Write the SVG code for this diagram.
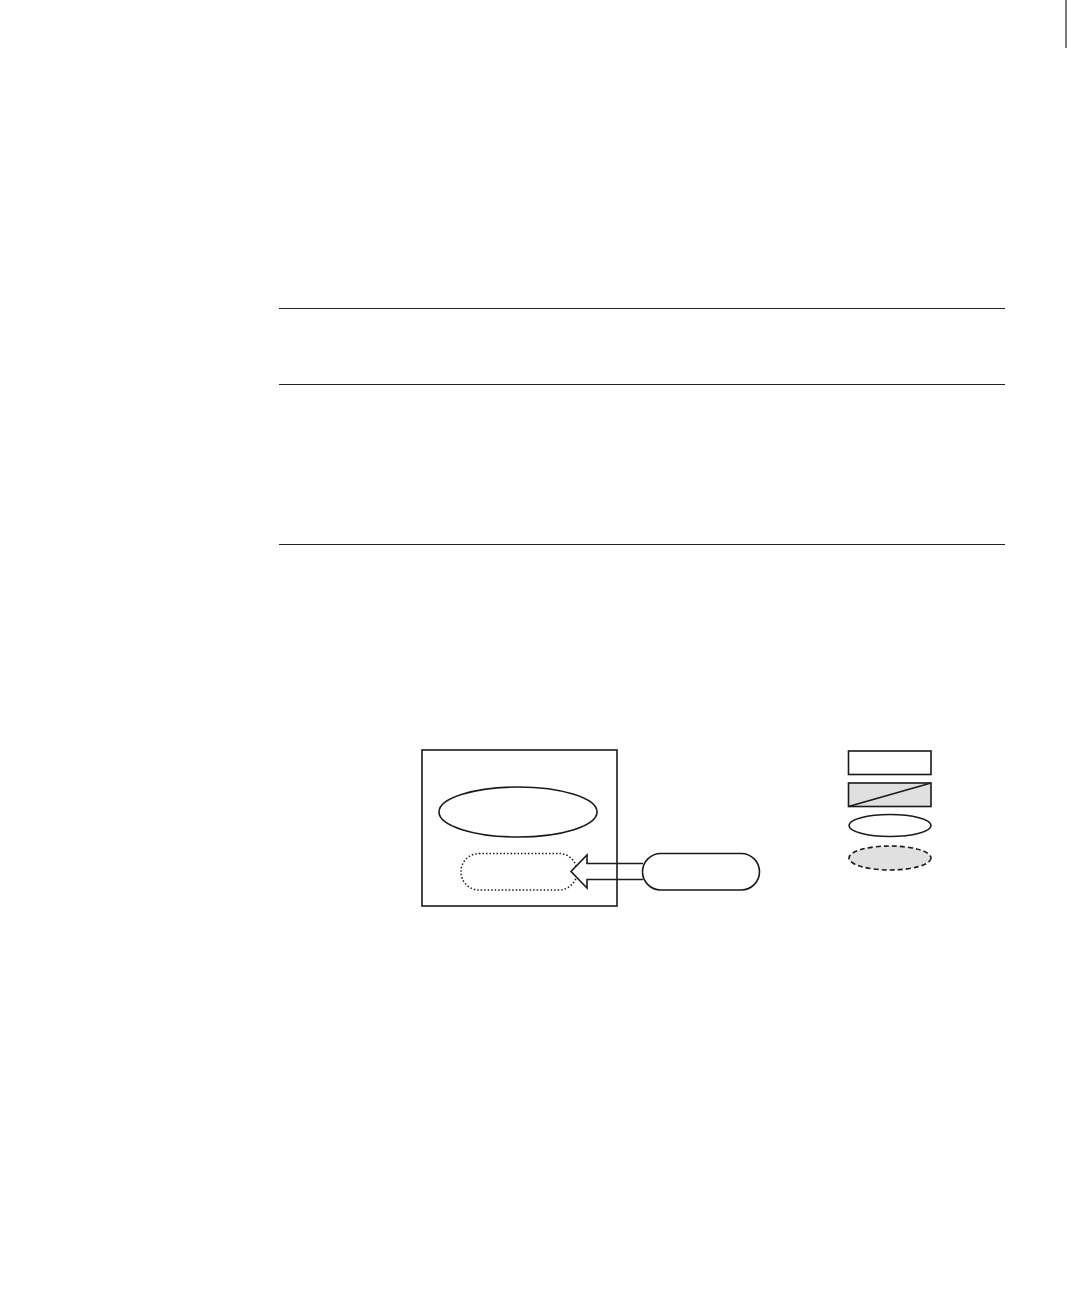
<svg xmlns="http://www.w3.org/2000/svg" width="1080" height="1296" viewBox="0 0 1080 1296">
<style>
.s{fill:none;stroke:#1a1a1a;stroke-width:1.6}
.w{fill:#fff;stroke:#1a1a1a;stroke-width:1.6}
.g{fill:#e0e0e0;stroke:#1a1a1a;stroke-width:1.6}
.rule{stroke:#222;stroke-width:1.2}
</style>
<rect width="1080" height="1296" fill="#fff"/>
<g id="rules">
<line class="rule" x1="1066" y1="0" x2="1066" y2="48"/>
<line class="rule" x1="279" y1="308.5" x2="1005" y2="308.5"/>
<line class="rule" x1="279" y1="384.5" x2="1005" y2="384.5"/>
<line class="rule" x1="279" y1="544.5" x2="1005" y2="544.5"/>
</g>
<g id="ellipse-node">
<ellipse class="w" cx="518" cy="812" rx="79" ry="25"/>
</g>
<g id="dotted-node">
<rect x="461" y="853.5" width="116" height="36.5" rx="18" ry="18" fill="#fff" stroke="#1a1a1a" stroke-width="1.5" stroke-dasharray="1.5 2"/>
</g>
<g id="connectors">
<path class="w" d="M643,863.5 L587,863.5 L587,855 L571,871.5 L587,888 L587,879.5 L643,879.5"/>
</g>
<g id="container">
<rect class="s" x="422" y="750" width="195" height="156"/>
</g>
<g id="pill-node">
<rect class="w" x="642.5" y="853.5" width="117" height="36.5" rx="18.25" ry="18.25"/>
</g>
<g id="legend">
<rect class="w" x="848.5" y="751" width="82.5" height="23.5"/>
<rect class="g" x="848.5" y="783" width="82.5" height="23.5"/>
<line class="s" x1="848.5" y1="806.5" x2="931" y2="783"/>
<ellipse class="w" cx="890" cy="825.5" rx="41" ry="11"/>
<ellipse class="g" cx="890" cy="858" rx="41" ry="12" stroke-dasharray="5 3"/>
</g>
</svg>
